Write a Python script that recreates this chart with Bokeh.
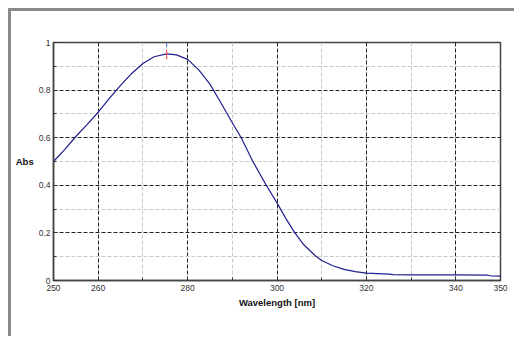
from bokeh.plotting import figure
from bokeh.models import Range1d, FixedTicker, ColumnDataSource
from bokeh.embed import file_html
from bokeh.resources import INLINE

wavelength = [250, 252.5, 255, 257.5, 260, 262.5, 265, 267.5, 270, 272.5, 275.3,
              277.5, 280, 282.5, 285, 287.5, 290, 292, 294.6, 297.6, 300, 302,
              304, 306, 308.5, 310, 312.5, 315, 317.5, 320, 325, 326, 330, 340,
              347, 348, 350]
absorbance = [0.50, 0.55, 0.605, 0.655, 0.707, 0.765, 0.82, 0.87, 0.912, 0.94, 0.952,
              0.948, 0.929, 0.885, 0.825, 0.745, 0.663, 0.60, 0.50, 0.40, 0.326, 0.26,
              0.20, 0.15, 0.105, 0.084, 0.062, 0.047, 0.037, 0.031, 0.027, 0.025, 0.024, 0.024,
              0.023, 0.019, 0.018]
peak_wl = 275.3
peak_marker = [0.93, 0.97]
peak_top = [0.98, 1.0]

x_ticks = [250, 260, 280, 300, 320, 340, 350]
x_minor = [270, 290, 310, 330]
y_ticks = [0, 0.2, 0.4, 0.6, 0.8, 1]
y_minor = [0.1, 0.3, 0.5, 0.7, 0.9]
y_labels = ["0", "0.2", "0.4", "0.6", "0.8", "1"]

frame_css = ("linear-gradient(#8a8a8a,#8a8a8a) 8px 8px / 3px 100% no-repeat, "
             "linear-gradient(#8a8a8a,#8a8a8a) 8px 8px / 100% 3px no-repeat, white")

p = figure(width=514, height=336, output_backend="svg", toolbar_location=None,
           x_range=Range1d(250, 350), y_range=Range1d(0, 1),
           min_border_left=53, min_border_top=42, min_border_right=14, min_border_bottom=56,
           styles={"background": frame_css})
p.background_fill_color = "white"
p.border_fill_alpha = 0
p.outline_line_color = "#444444"
p.outline_line_width = 1.5

p.xaxis.ticker = FixedTicker(ticks=x_ticks, minor_ticks=x_minor)
p.yaxis.ticker = FixedTicker(ticks=y_ticks, minor_ticks=y_minor)
p.yaxis.major_label_overrides = {t: l for t, l in zip(y_ticks, y_labels)}

for ax in (p.xaxis[0], p.yaxis[0]):
    ax.axis_line_color = "#444444"
    ax.axis_line_width = 1.5
    ax.major_tick_in = 4
    ax.major_tick_out = 0
    ax.minor_tick_in = 3
    ax.minor_tick_out = 0
    ax.major_tick_line_color = "#333333"
    ax.minor_tick_line_color = "#333333"
    ax.major_label_text_font = "Liberation Sans"
    ax.major_label_text_font_size = "8.5px"
    ax.major_label_text_color = "#333333"
    ax.axis_label_text_font = "Liberation Sans"
    ax.axis_label_text_font_size = "9.5px"
    ax.axis_label_text_font_style = "bold"
    ax.axis_label_text_color = "#111111"

p.xaxis.axis_label = "Wavelength [nm]"
p.xaxis.major_label_standoff = 4
p.xaxis.axis_label_standoff = 3
p.yaxis.axis_label = "Abs"
p.yaxis.axis_label_orientation = "horizontal"
p.yaxis.major_label_standoff = 3
p.yaxis.axis_label_standoff = 2

for g in (p.xgrid[0], p.ygrid[0]):
    g.grid_line_color = "#222222"
    g.grid_line_dash = "4 2"
    g.grid_line_width = 1
    g.minor_grid_line_color = "#c8c8c8"
    g.minor_grid_line_dash = "4 2"
    g.minor_grid_line_width = 1

src = ColumnDataSource(dict(x=wavelength, y=absorbance))
p.line("x", "y", source=src, line_color="#1f1f8f", line_width=1.2)

p.segment(x0=[peak_wl], y0=[peak_marker[0]], x1=[peak_wl], y1=[peak_marker[1]],
          line_color="#ff5a5a", line_width=1.2)
p.segment(x0=[peak_wl], y0=[peak_top[0]], x1=[peak_wl], y1=[peak_top[1]],
          line_color="#5a8ccc", line_width=1.2)

open("out.html", "w").write(file_html(p, INLINE))
